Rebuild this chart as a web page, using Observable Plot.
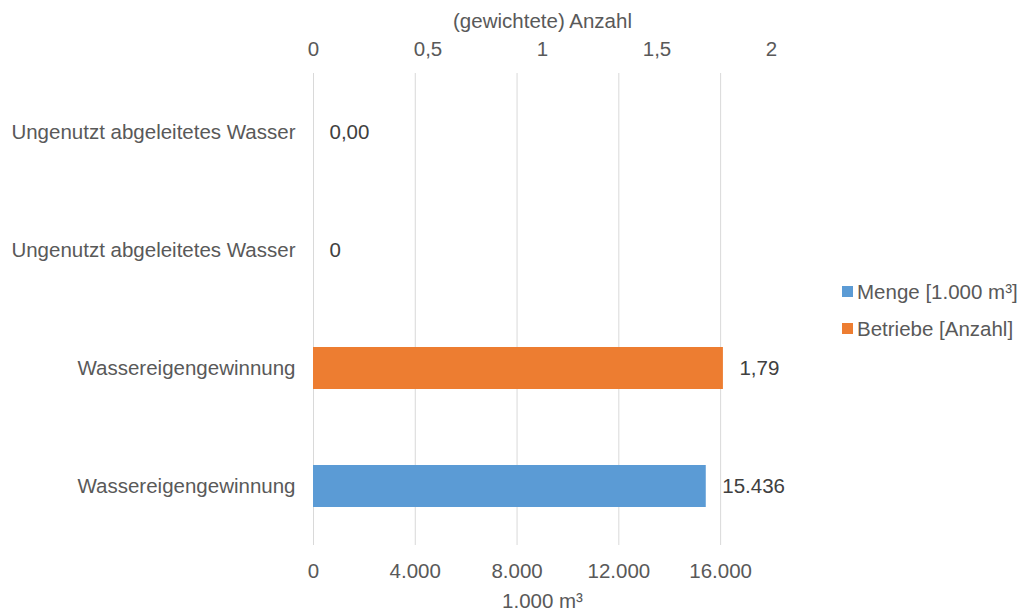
<!DOCTYPE html>
<html>
<head>
<meta charset="utf-8">
<script src="https://cdn.jsdelivr.net/npm/d3@7"></script>
<script src="https://cdn.jsdelivr.net/npm/@observablehq/plot@0.6"></script>
<style>
  html, body { margin: 0; padding: 0; background: #fff; }
  #wrap { position: relative; width: 1018px; height: 610px; font-family: "Liberation Sans", Arial, sans-serif; }
  #wrap svg { display: block; }
  #legend { position: absolute; left: 842px; top: 273px; color: #595959; font-size: 20.5px; line-height: 37px; }
  .item { display: flex; align-items: center; white-space: nowrap; }
  .sw { width: 11px; height: 11px; margin-right: 4px; }
</style>
</head>
<body>
<div id="wrap"><div id="legend"></div></div>
<script>
// ---- data ----
const categories = ["Ungenutzt abgeleitetes Wasser", "Wassereigengewinnung"];
const mengeValues = [0, 15436];      // 1.000 m³
const betriebeValues = [0, 1.79];    // (gewichtete) Anzahl
const seriesNames = ["Menge [1.000 m³]", "Betriebe [Anzahl]"];
const seriesColors = ["#5B9BD5", "#ED7D31"];
const bottomTicks = [0, 4000, 8000, 12000, 16000];
const topTicks = [0, 0.5, 1, 1.5, 2];
const bottomMax = 18000;
const topMax = 2;
const bottomTitle = "1.000 m³";
const topTitle = "(gewichtete) Anzahl";

const de = d3.formatLocale({decimal: ",", thousands: ".", grouping: [3], currency: ["", " €"]});
const fmtInt = de.format(",");
const fmt2 = de.format(",.2f");
const ratio = bottomMax / topMax;

// rows, top to bottom: per category, Betriebe then Menge
const rows = [];
categories.forEach((c, i) => {
  rows.push({key: c + "|b", cat: c, series: seriesNames[1], x: betriebeValues[i] * ratio, label: fmt2(betriebeValues[i])});
  rows.push({key: c + "|m", cat: c, series: seriesNames[0], x: mengeValues[i], label: fmtInt(mengeValues[i])});
});
const keyToCat = new Map(rows.map(r => [r.key, r.cat]));

const FS = 20.5;
const chart = Plot.plot({
  width: 1018,
  height: 610,
  marginLeft: 313,
  marginRight: 247,
  marginTop: 73,
  marginBottom: 65,
  style: {fontFamily: "'Liberation Sans', Arial, sans-serif", fontSize: FS + "px", color: "#595959", background: "#fff"},
  x: {domain: [0, bottomMax]},
  y: {domain: rows.map(r => r.key), padding: 0},
  color: {domain: seriesNames, range: seriesColors},
  marks: [
    Plot.gridX(bottomTicks, {stroke: "#d9d9d9", strokeOpacity: 1, strokeWidth: 1}),
    Plot.barX(rows, {x: "x", y: "key", fill: "series", insetTop: 38, insetBottom: 38}),
    Plot.text(rows, {x: "x", y: "key", text: "label", dx: 16, textAnchor: "start", fill: "#404040", fontSize: FS}),
    Plot.axisX(bottomTicks, {anchor: "bottom", tickSize: 0, tickPadding: 18, tickFormat: fmtInt, label: null, fontSize: FS}),
    Plot.axisX(topTicks.map(v => v * ratio), {anchor: "top", tickSize: 0, tickPadding: 18, tickFormat: v => fmtInt(v / ratio), label: null, fontSize: FS}),
    Plot.axisY({tickSize: 0, tickPadding: 18, tickFormat: k => keyToCat.get(k), label: null, fontSize: FS}),
    Plot.text([bottomTitle], {frameAnchor: "bottom", dy: 62, fill: "#595959", fontSize: FS}),
    Plot.text([topTitle], {frameAnchor: "top", dy: -60, fill: "#595959", fontSize: FS})
  ]
});
document.getElementById("wrap").prepend(chart);

const legend = document.getElementById("legend");
seriesNames.forEach((n, i) => {
  const it = document.createElement("div");
  it.className = "item";
  const sw = document.createElement("span");
  sw.className = "sw";
  sw.style.background = seriesColors[i];
  const t = document.createElement("span");
  t.textContent = n;
  it.append(sw, t);
  legend.append(it);
});
</script>
</body>
</html>
